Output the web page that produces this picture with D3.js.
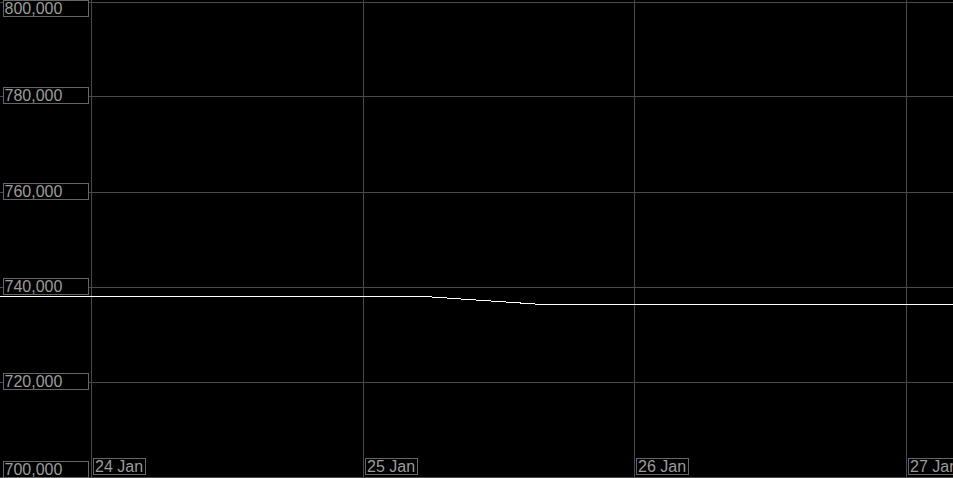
<!DOCTYPE html>
<html>
<head>
<meta charset="utf-8">
<script src="https://cdn.jsdelivr.net/npm/d3@7"></script>
<style>
  html, body { margin: 0; padding: 0; background: #000; }
  svg { display: block; }
</style>
</head>
<body>
<div id="chart"></div>
<script>
// price series
const times = ["2024-01-23T16:00", "2024-01-25T04:48", "2024-01-25T15:20", "2024-01-27T06:00"];
const prices = [738000, 738000, 736300, 736300];

// axis ticks
const yTicks = [700000, 720000, 740000, 760000, 780000, 800000];
const xTicks = ["2024-01-24", "2024-01-25", "2024-01-26", "2024-01-27"];
const xTickLabels = ["24 Jan", "25 Jan", "26 Jan", "27 Jan"];

function main() {
    const canvasWidth = 953;
    const canvasHeight = 478;

    const svg = d3.select("#chart").append("svg")
        .attr("width", canvasWidth)
        .attr("height", canvasHeight)
        .style("background", "#000");

    const parseTime = d3.isoParse;
    const data = times.map((t, i) => ({ date: parseTime(t), price: prices[i] }));

    const xScale = d3.scaleTime()
        .domain([parseTime(xTicks[0]), parseTime(xTicks[3])])
        .range([91, 906]);

    const yScale = d3.scaleLinear()
        .domain([700000, 800000])
        .range([476.5, 1.5]);

    // grid
    svg.append("g")
        .selectAll("line")
        .data(yTicks)
        .join("line")
        .attr("x1", 0)
        .attr("x2", canvasWidth)
        .attr("y1", d => Math.round(yScale(d)))
        .attr("y2", d => Math.round(yScale(d)))
        .attr("stroke", "#4a4a4a")
        .attr("stroke-width", 1)
        .attr("shape-rendering", "crispEdges");

    svg.append("g")
        .selectAll("line")
        .data(xTicks)
        .join("line")
        .attr("x1", d => Math.round(xScale(parseTime(d))) + 0.5)
        .attr("x2", d => Math.round(xScale(parseTime(d))) + 0.5)
        .attr("y1", 0)
        .attr("y2", canvasHeight)
        .attr("stroke", "#4a4a4a")
        .attr("stroke-width", 1)
        .attr("shape-rendering", "crispEdges");

    // price line
    svg.append("path")
        .datum(data)
        .attr("fill", "none")
        .attr("stroke", "#fff")
        .attr("stroke-width", 1)
        .attr("shape-rendering", "crispEdges")
        .attr("d", d3.line()
            .x(d => xScale(d.date))
            .y(d => yScale(d.price)));

    // y labels (boxed)
    const fmt = d3.format(",");
    const yLab = svg.append("g")
        .selectAll("g")
        .data(yTicks)
        .join("g")
        .attr("transform", d => {
            let top = Math.round(yScale(d)) - 9;
            top = Math.max(0, Math.min(canvasHeight - 17, top));
            return "translate(3," + top + ")";
        });

    yLab.append("rect")
        .attr("x", 0.5)
        .attr("y", 0.5)
        .attr("width", 85)
        .attr("height", 16)
        .attr("fill", "#000")
        .attr("stroke", "#666")
        .attr("shape-rendering", "crispEdges");

    yLab.append("text")
        .attr("x", 1.5)
        .attr("y", 14)
        .attr("font-family", "Liberation Sans, Arial, sans-serif")
        .attr("font-size", "16px")
        .attr("fill", "#9c9c9c")
        .text(d => fmt(d));

    // x labels (boxed)
    const xLab = svg.append("g")
        .selectAll("g")
        .data(xTicks)
        .join("g")
        .attr("transform", d => "translate(" + (Math.round(xScale(parseTime(d))) + 2) + ",458)");

    xLab.append("rect")
        .attr("x", 0.5)
        .attr("y", 0.5)
        .attr("height", 16)
        .attr("fill", "#000")
        .attr("stroke", "#666")
        .attr("shape-rendering", "crispEdges");

    xLab.append("text")
        .attr("x", 2)
        .attr("y", 14)
        .attr("font-family", "Liberation Sans, Arial, sans-serif")
        .attr("font-size", "16px")
        .attr("fill", "#9c9c9c")
        .text((d, i) => xTickLabels[i]);

    xLab.each(function () {
        const w = d3.select(this).select("text").node().getComputedTextLength();
        d3.select(this).select("rect").attr("width", Math.round(w) + 4);
    });
}
main();
</script>
</body>
</html>
